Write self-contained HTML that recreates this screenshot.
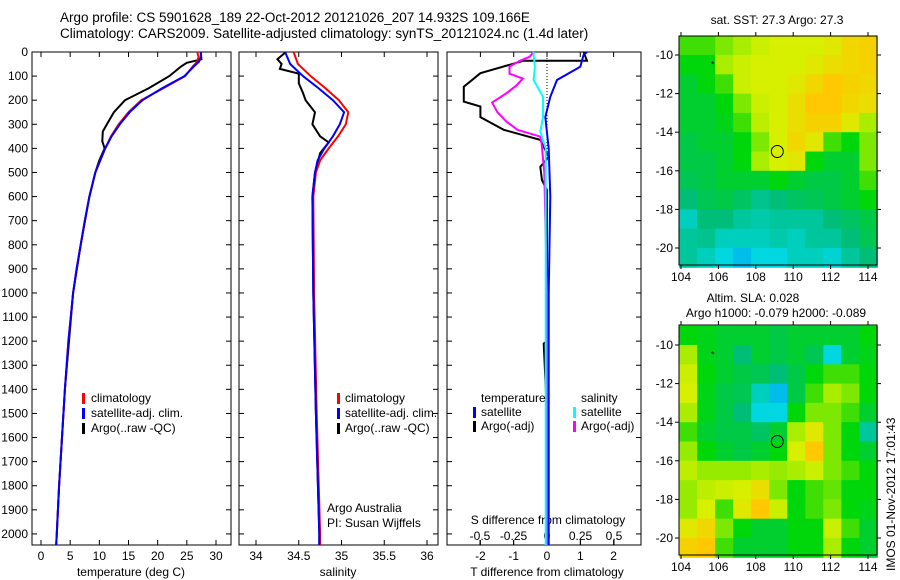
<!DOCTYPE html>
<html><head><meta charset="utf-8"><style>
body{margin:0;background:#fff}
svg{display:block;font-family:"Liberation Sans",sans-serif}
</style></head><body>
<svg id="fig" width="900" height="580" viewBox="0 0 900 580"></svg>
<script>
// ---- data ----
const tDepth=[0,20,40,60,100,150,200,250,300,350,400,500,600,700,800,900,1000,1200,1400,1600,1800,2000,2046];
const tClim=[26.8,27,26.8,26,24.7,21,17.2,15,13.3,12,11,9.3,8.3,7.5,6.8,6.1,5.5,4.7,4.1,3.6,3.1,2.7,2.6];
const tSat=[27.4,27.4,27.1,26.2,24.6,20.8,17.4,15.2,13.5,12.1,11,9.3,8.3,7.5,6.8,6.1,5.5,4.7,4.1,3.6,3.1,2.7,2.6];
const tArgoDepth=[0,30,36,45,60,100,150,200,250,300,330,370,400,450,500,600,800,1000,1400,1800,2046];
const tArgo=[27.4,27.5,26.5,25,24,22,18.5,14.4,12.5,11.3,10.6,10.5,10.9,10.0,9.3,8.3,6.8,5.5,4.1,3.1,2.6];
const sDepth=[0,50,100,150,200,250,300,350,400,450,500,600,1000,1500,2000,2046];
const sClim=[34.44,34.49,34.64,34.81,34.97,35.08,35.05,34.96,34.85,34.75,34.7,34.67,34.68,34.71,34.75,34.75];
const sSat=[34.34,34.4,34.55,34.73,34.9,35.03,34.98,34.9,34.8,34.72,34.69,34.66,34.67,34.7,34.74,34.74];
const sArgoDepth=[0,30,50,70,90,130,170,200,250,300,350,375,420,500,600,1000,1500,2000,2046];
const sArgo=[34.35,34.25,34.3,34.28,34.5,34.5,34.55,34.58,34.69,34.66,34.75,34.85,34.75,34.69,34.66,34.67,34.7,34.74,34.74];
const dtSatDepth=[0,12,61,116,186,270,400,600,1000,1500,2046];
const dtSat=[1.2,1.1,1.0,0.3,0.1,-0.05,0.05,0.1,0.05,0.05,0.05];
const dtArgoDepth=[0,36,36,88,144,206,226,270,323,365,435,477,532,573,1000,1200,1210,1500,2046];
const dtArgo=[1.1,1.2,-0.7,-2.0,-2.5,-2.5,-2.0,-2.0,-1.3,-0.2,0.05,-0.2,-0.15,0,0,0,-0.1,0,0];
const dsArgoDepth=[0,20,36,60,90,110,140,170,210,250,290,323,351,379,500,1000,2046];
const dsArgo=[-0.1,-0.13,-0.2,-0.28,-0.28,-0.18,-0.23,-0.3,-0.41,-0.37,-0.3,-0.22,-0.05,-0.04,-0.02,0,0];
const dsSatDepth=[0,12,60,116,186,270,330,400,1000,2046];
const dsSat=[-0.1,-0.1,-0.09,-0.1,-0.03,-0.03,-0.05,-0.01,-0.01,-0.01];
const depthTicks=[0,100,200,300,400,500,600,700,800,900,1000,1100,1200,1300,1400,1500,1600,1700,1800,1900,2000];
const tTicks=[0,5,10,15,20,25,30];
const sTicks=[34,34.5,35,35.5,36];
const dtTicks=[-2,-1,0,1,2];
const dsTicks=[-0.5,-0.25,0,0.25,0.5];
const dsTickLabels=["-0.5","-0.25","0","0.25","0.5"];
const lonTicks=[104,106,108,110,112,114];
const latTicks=[-10,-12,-14,-16,-18,-20];
const sstGrid=[
[0.55,0.55,0.6,0.65,0.7,0.72,0.72,0.72,0.75,0.8,0.82],
[0.5,0.5,0.65,0.7,0.72,0.72,0.72,0.75,0.78,0.8,0.82],
[0.45,0.5,0.55,0.7,0.72,0.72,0.75,0.8,0.85,0.82,0.8],
[0.45,0.45,0.5,0.6,0.7,0.72,0.78,0.85,0.85,0.8,0.78],
[0.45,0.45,0.48,0.55,0.68,0.72,0.78,0.82,0.82,0.75,0.65],
[0.42,0.45,0.45,0.5,0.6,0.72,0.8,0.75,0.55,0.5,0.6],
[0.42,0.42,0.45,0.5,0.65,0.72,0.75,0.5,0.45,0.45,0.6],
[0.4,0.42,0.45,0.45,0.45,0.5,0.45,0.42,0.42,0.45,0.55],
[0.35,0.4,0.42,0.38,0.32,0.35,0.38,0.4,0.42,0.45,0.5],
[0.25,0.35,0.35,0.3,0.28,0.3,0.3,0.3,0.35,0.38,0.42],
[0.3,0.32,0.25,0.25,0.25,0.28,0.25,0.3,0.3,0.35,0.4],
[0.3,0.25,0.2,0.15,0.2,0.2,0.25,0.25,0.22,0.3,0.35]];
const slaGrid=[
[0.5,0.48,0.45,0.45,0.45,0.42,0.45,0.45,0.45,0.45,0.5],
[0.65,0.48,0.45,0.35,0.45,0.42,0.45,0.4,0.2,0.45,0.48],
[0.7,0.5,0.45,0.42,0.4,0.35,0.42,0.5,0.55,0.55,0.5],
[0.72,0.48,0.42,0.4,0.25,0.15,0.42,0.55,0.65,0.6,0.5],
[0.65,0.48,0.42,0.35,0.2,0.2,0.5,0.6,0.6,0.55,0.45],
[0.55,0.45,0.42,0.42,0.38,0.45,0.65,0.75,0.6,0.5,0.3],
[0.62,0.5,0.45,0.42,0.45,0.5,0.72,0.85,0.6,0.5,0.45],
[0.68,0.62,0.62,0.62,0.65,0.62,0.65,0.7,0.6,0.55,0.5],
[0.62,0.68,0.7,0.72,0.78,0.6,0.5,0.55,0.58,0.5,0.5],
[0.62,0.72,0.55,0.75,0.85,0.7,0.5,0.55,0.6,0.5,0.48],
[0.75,0.8,0.6,0.5,0.45,0.45,0.5,0.5,0.7,0.55,0.45],
[0.82,0.85,0.55,0.45,0.45,0.45,0.5,0.5,0.65,0.5,0.45]];
const floatLon=109.15, floatLat=-15.0;

// ---- helpers ----
const NS="http://www.w3.org/2000/svg";
const svg=document.getElementById('fig');
function el(tag,attrs,parent,text){const e=document.createElementNS(NS,tag);for(const k in attrs)e.setAttribute(k,attrs[k]);if(text!==undefined)e.textContent=text;(parent||svg).appendChild(e);return e;}
const Y0=52,Y1=545,D1=2046;
const yD=d=>Y0+(Y1-Y0)*d/D1;
function lin(d0,d1,r0,r1){return v=>r0+(r1-r0)*(v-d0)/(d1-d0);}
function line(xs,ds,xf,color,g,name){const p=xs.map((v,i)=>xf(v).toFixed(1)+','+yD(ds[i]).toFixed(1)).join(' ');const e=el('polyline',{points:p,fill:'none',stroke:color,'stroke-width':2},g);}
function txt(x,y,s,g,anchor,name,size){const e=el('text',{x:x,y:y,'font-size':size||12,'text-anchor':anchor||'start'},g,s);return e;}
function box(x0,x1,name){const g=el('g',{});el('rect',{x:x0,y:Y0,width:x1-x0,height:Y1-Y0,fill:'none',stroke:'#000','stroke-width':1},g);
 depthTicks.forEach(d=>{const y=yD(d);el('line',{x1:x0,x2:x0+5,y1:y,y2:y,stroke:'#000'},g);el('line',{x1:x1-5,x2:x1,y1:y,y2:y,stroke:'#000'},g);});return g;}
function xticks(g,ticks,xf,labels,name){ticks.forEach((t,i)=>{const x=xf(t);el('line',{x1:x,x2:x,y1:Y0,y2:Y0+5,stroke:'#000'},g);el('line',{x1:x,x2:x,y1:Y1-5,y2:Y1,stroke:'#000'},g);txt(x,Y1+15,labels?labels[i]:String(t),g,'middle',name);});}

// titles
txt(60,22,"Argo profile: CS 5901628_189 22-Oct-2012 20121026_207 14.932S 109.166E",null,'start','title-line-1',13.5);
txt(60,38,"Climatology: CARS2009. Satellite-adjusted climatology: synTS_20121024.nc (1.4d later)",null,'start','title-line-2',13.5);

// panel 1 temperature
const xT=lin(0,30,41,216);
const g1=box(32,231,'temperature-panel');
depthTicks.forEach(d=>txt(28,yD(d)+4,String(d),g1,'end','depth-tick-label'));
xticks(g1,tTicks,xT,null,'temperature-tick-label');
txt(131,576,"temperature (deg C)",g1,'middle','temperature-axis-title');
line(tArgo,tArgoDepth,xT,'#000',g1,'temp-argo-line');
line(tClim,tDepth,xT,'#f00',g1,'temp-climatology-line');
line(tSat,tDepth,xT,'#00f',g1,'temp-satellite-line');
[['climatology','#f00'],['satellite-adj. clim.','#00f'],['Argo(..raw -QC)','#000']].forEach((l,i)=>{const y=402+i*15;el('rect',{x:82,y:y-9,width:3,height:11,fill:l[1]},g1);txt(91,y,l[0],g1,'start','temp-legend-entry');});

// panel 2 salinity
const xS=lin(34,36,256,427);
const g2=box(239,438,'salinity-panel');
xticks(g2,sTicks,xS,null,'salinity-tick-label');
txt(338,576,"salinity",g2,'middle','salinity-axis-title');
line(sArgo,sArgoDepth,xS,'#000',g2,'sal-argo-line');
line(sClim,sDepth,xS,'#f00',g2,'sal-climatology-line');
line(sSat,sDepth,xS,'#00f',g2,'sal-satellite-line');
[['climatology','#f00'],['satellite-adj. clim.','#00f'],['Argo(..raw -QC)','#000']].forEach((l,i)=>{const y=402+i*15;el('rect',{x:337,y:y-9,width:3,height:11,fill:l[1]},g2);txt(345,y,l[0],g2,'start','sal-legend-entry');});
txt(327,512,"Argo Australia",g2,'start','agency-label');
txt(327,527,"PI: Susan Wijffels",g2,'start','pi-label');

// panel 3 differences
const xDT=lin(0,1,547,580.3);
const xDS=lin(0,0.5,547,614);
const g3=box(447,641,'difference-panel');
el('line',{x1:547,x2:547,y1:Y0,y2:yD(450),stroke:'#000','stroke-dasharray':'1,2'},g3);
dtTicks.forEach(t=>{const x=xDT(t);el('line',{x1:x,x2:x,y1:Y1-5,y2:Y1,stroke:'#000'},g3);el('line',{x1:x,x2:x,y1:Y0,y2:Y0+5,stroke:'#000'},g3);txt(x,Y1+15,String(t),g3,'middle','tdiff-tick-label');});
dsTicks.forEach((t,i)=>{const x=xDS(t);el('line',{x1:x,x2:x,y1:Y1-5,y2:Y1,stroke:'#000'},g3);txt(x,540,dsTickLabels[i],g3,'middle','sdiff-tick-label');});
txt(548,524,"S difference from climatology",g3,'middle','sdiff-axis-title');
txt(547,576,"T difference from climatology",g3,'middle','tdiff-axis-title');
line(dtArgo,dtArgoDepth,xDT,'#000',g3,'tdiff-argo-line');
line(dtSat,dtSatDepth,xDT,'#00f',g3,'tdiff-satellite-line');
line(dsArgo,dsArgoDepth,xDS,'#f0f',g3,'sdiff-argo-line');
line(dsSat,dsSatDepth,xDS,'#0ff',g3,'sdiff-satellite-line');
txt(481,402,"temperature",g3,'start','legend-temperature-header');
txt(581,402,"salinity",g3,'start','legend-salinity-header');
[['satellite','#00f',473,481],['Argo(-adj)','#000',473,481],['satellite','#0ff',573,581],['Argo(-adj)','#f0f',573,581]].forEach((l,i)=>{const y=416+(i%2)*14;el('rect',{x:l[2],y:y-9,width:3,height:11,fill:l[1]},g3);txt(l[3],y,l[0],g3,'start','diff-legend-entry');});

// maps
const stops=[[0,[0,110,255]],[0.2,[0,215,225]],[0.35,[0,190,120]],[0.5,[0,215,10]],[0.62,[150,235,0]],[0.72,[215,240,0]],[0.85,[255,200,0]],[1,[255,140,0]]];
function cmap(v){for(let i=1;i<stops.length;i++){if(v<=stops[i][0]){const a=stops[i-1],b=stops[i];const f=(v-a[0])/(b[0]-a[0]);const c=a[1].map((q,k)=>Math.round(q+(b[1][k]-q)*f));return 'rgb('+c.join(',')+')';}}return 'rgb(255,140,0)';}
function map(grid,top,bottom,lat10y,lat20y,name,cellName){
 const x0=679,x1=877;
 const xL=lin(104,114,681,868), yL=lin(-10,-20,lat10y,lat20y);
 const g=el('g',{});
 const rows=grid.length, cols=grid[0].length;
 const lonW=(114.5-103.9)/cols, latH=(21-9)/rows;
 grid.forEach((row,r)=>row.forEach((v,c)=>{const xa=xL(103.9+c*lonW),xb=xL(103.9+(c+1)*lonW);const ya=yL(-9-r*latH),yb=yL(-9-(r+1)*latH);
  const rc=el('rect',{x:xa,y:ya,width:xb-xa+0.5,height:yb-ya+0.5,fill:cmap(v)},g);
  
  }));
 el('rect',{x:x0,y:top,width:x1-x0,height:bottom-top,fill:'none',stroke:'#000'},g);
 lonTicks.forEach(t=>{const x=xL(t);el('line',{x1:x,x2:x,y1:top-4,y2:top,stroke:'#000'},g);el('line',{x1:x,x2:x,y1:bottom,y2:bottom+4,stroke:'#000'},g);txt(x,bottom+16,String(t),g,'middle','lon-tick-label');});
 latTicks.forEach(t=>{const y=yL(t);el('line',{x1:x0-4,x2:x0,y1:y,y2:y,stroke:'#000'},g);el('line',{x1:x1,x2:x1+4,y1:y,y2:y,stroke:'#000'},g);txt(x0-6,y+4,String(t),g,'end','lat-tick-label');});
 const ci=el('circle',{cx:xL(floatLon),cy:yL(floatLat),r:6,fill:'none',stroke:'#000'},g);
 
 txt(xL(105.7),yL(-10.5)+3,"*",g,'middle','prior-position-marker',9);
 return g;}
const m1=map(sstGrid,36,265,55,248,'sst-map','sst-cell');
txt(777,24,"sat. SST: 27.3 Argo: 27.3",m1,'middle','sst-map-title');
const m2=map(slaGrid,325,555,345,538,'sla-map','sla-cell');
txt(753,302,"Altim. SLA: 0.028",m2,'middle','sla-map-title');
txt(776,317,"Argo h1000: -0.079 h2000: -0.089",m2,'middle','sla-map-subtitle');
const st=txt(0,0,"IMOS 01-Nov-2012 17:01:43",null,'start','imos-timestamp');
st.setAttribute('transform','translate(895,571) rotate(-90)');
</script>
</body></html>
